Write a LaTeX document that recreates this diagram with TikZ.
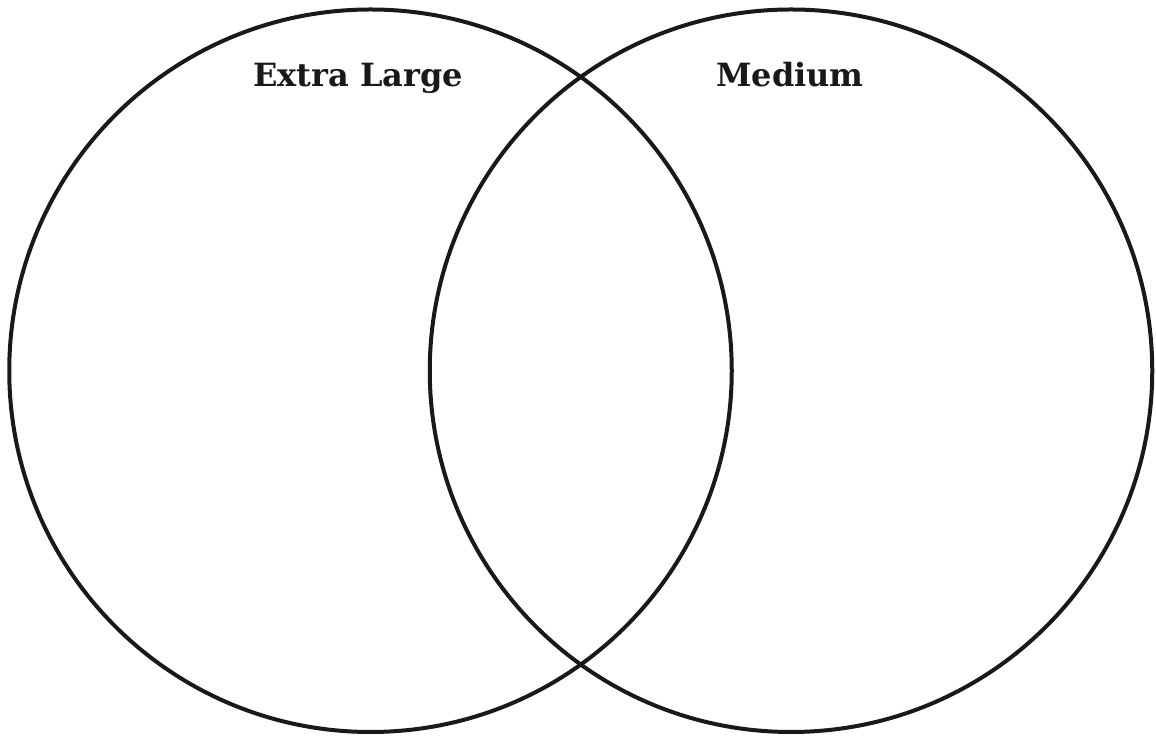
\documentclass[tikz,border=0pt]{standalone}
\usepackage{fontspec}
\setmainfont{DejaVu Serif}
\begin{document}
\begin{tikzpicture}[x=1pt,y=1pt,
  vcircle/.style={draw=black!90, line width=4pt, circle, minimum size=722.5pt, inner sep=0pt, outer sep=0pt},
  vlabel/.style={font=\bfseries\fontsize{32}{38}\selectfont, anchor=base, inner sep=0pt, text=black!90}]
\useasboundingbox (0,0) rectangle (1156,738);
\node[vcircle] (L) at (370.5,367.25) {};
\node[vcircle] (R) at (791,367.25) {};
\node[vlabel] (tl) at (358,651) {Extra Large};
\node[vlabel] (tr) at (790,651) {Medium};
\end{tikzpicture}
\end{document}
